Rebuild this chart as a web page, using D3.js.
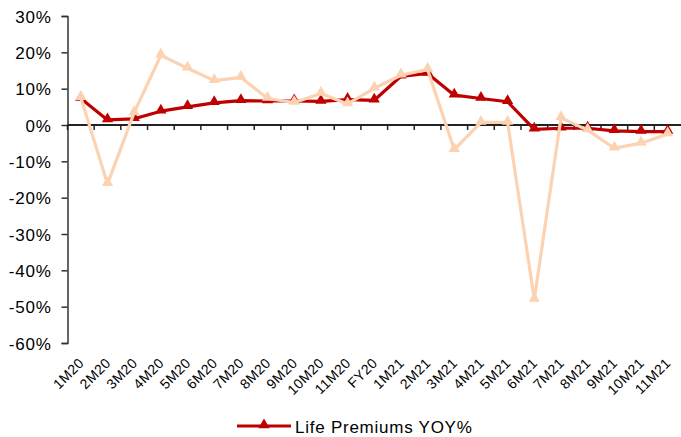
<!DOCTYPE html>
<html><head><meta charset="utf-8">
<script src="https://cdn.jsdelivr.net/npm/d3@7"></script>
<style>body{margin:0;background:#fff}svg{display:block}text{font-family:"Liberation Sans",Arial,sans-serif;fill:#000}</style>
</head><body><svg id="c" width="681" height="437"></svg>
<script>
const categories = ["1M20","2M20","3M20","4M20","5M20","6M20","7M20","8M20","9M20","10M20","11M20","FY20","1M21","2M21","3M21","4M21","5M21","6M21","7M21","8M21","9M21","10M21","11M21"];
const lifePremiumsYOY = [7.3,1.4,1.7,3.8,5.0,6.1,6.7,6.6,6.6,6.5,7.0,6.8,13.4,14.2,8.2,7.3,6.4,-1.2,-0.9,-0.9,-1.6,-1.8,-1.8];
const secondSeries = [7.5,-16.2,3.4,19.2,15.6,12.2,13.1,7.3,6.2,8.7,5.8,10.1,13.7,15.3,-6.8,0.7,0.7,-48.0,2.0,-1.4,-6.4,-5.0,-2.5];
const yTicks = [30,20,10,0,-10,-20,-30,-40,-50,-60];
const legendLabel = "Life Premiums YOY%";

const svg = d3.select("#c");
const mLeft = 67.5, mRight = 681, mTop = 16, mBottom = 343;
const x = d3.scaleBand().domain(categories).range([mLeft, mRight]);
const y = d3.scaleLinear().domain([-60, 30]).range([mBottom, mTop]);
const cx = d => x(d) + x.bandwidth()/2;

// y axis
const yAxis = d3.axisLeft(y).tickValues(yTicks).tickSize(6).tickPadding(10).tickFormat(d => d + "%");
const ga = svg.append("g").attr("transform", `translate(${mLeft},0)`).call(yAxis);
ga.select(".domain").attr("stroke", "#333").attr("stroke-width", 1.5);
ga.selectAll(".tick line").attr("stroke", "#333").attr("stroke-width", 1.5);
ga.selectAll(".tick text").attr("font-size", 17).attr("fill", "#000")
  .style("font-family", "Liberation Sans, Arial, sans-serif").style("letter-spacing", "0.75px").attr("dy", "0.36em");

// zero axis with ticks at category boundaries
const gz = svg.append("g");
gz.append("line").attr("x1", mLeft).attr("x2", mRight).attr("y1", y(0)).attr("y2", y(0)).attr("stroke", "#222").attr("stroke-width", 2);
gz.selectAll("line.t").data(categories).enter().append("line")
  .attr("x1", d => x(d)).attr("x2", d => x(d)).attr("y1", y(0)).attr("y2", y(0) + 5)
  .attr("stroke", "#222").attr("stroke-width", 1.5);

// x labels at bottom, rotated
svg.append("g").selectAll("text").data(categories).enter().append("text")
  .attr("transform", d => `translate(${cx(d) + 4},${mBottom + 21}) rotate(-45)`)
  .attr("text-anchor", "end").attr("font-size", 14).style("letter-spacing", "0.4px").text(d => d);

const line = d3.line().x((d, i) => cx(categories[i])).y(d => y(d));
const tri = d3.symbol().type(d3.symbolTriangle).size(55);

function drawSeries(vals, color) {
  svg.append("path").datum(vals).attr("d", line).attr("fill", "none").attr("stroke", color).attr("stroke-width", 3.2).attr("stroke-linejoin", "round");
  svg.append("g").selectAll("path").data(vals).enter().append("path")
    .attr("d", tri).attr("transform", (d, i) => `translate(${cx(categories[i])},${y(d) - 1})`).attr("fill", color);
}
drawSeries(lifePremiumsYOY, "#C00000");
drawSeries(secondSeries, "#FBD2B2");

// legend
const lg = svg.append("g");
lg.append("line").attr("x1", 237).attr("x2", 291).attr("y1", 426).attr("y2", 426).attr("stroke", "#C00000").attr("stroke-width", 3.2);
lg.append("path").attr("d", tri).attr("transform", "translate(264,425)").attr("fill", "#C00000");
lg.append("text").attr("x", 295).attr("y", 433).attr("font-size", 17).style("letter-spacing", "0.75px").text(legendLabel);
</script></body></html>
